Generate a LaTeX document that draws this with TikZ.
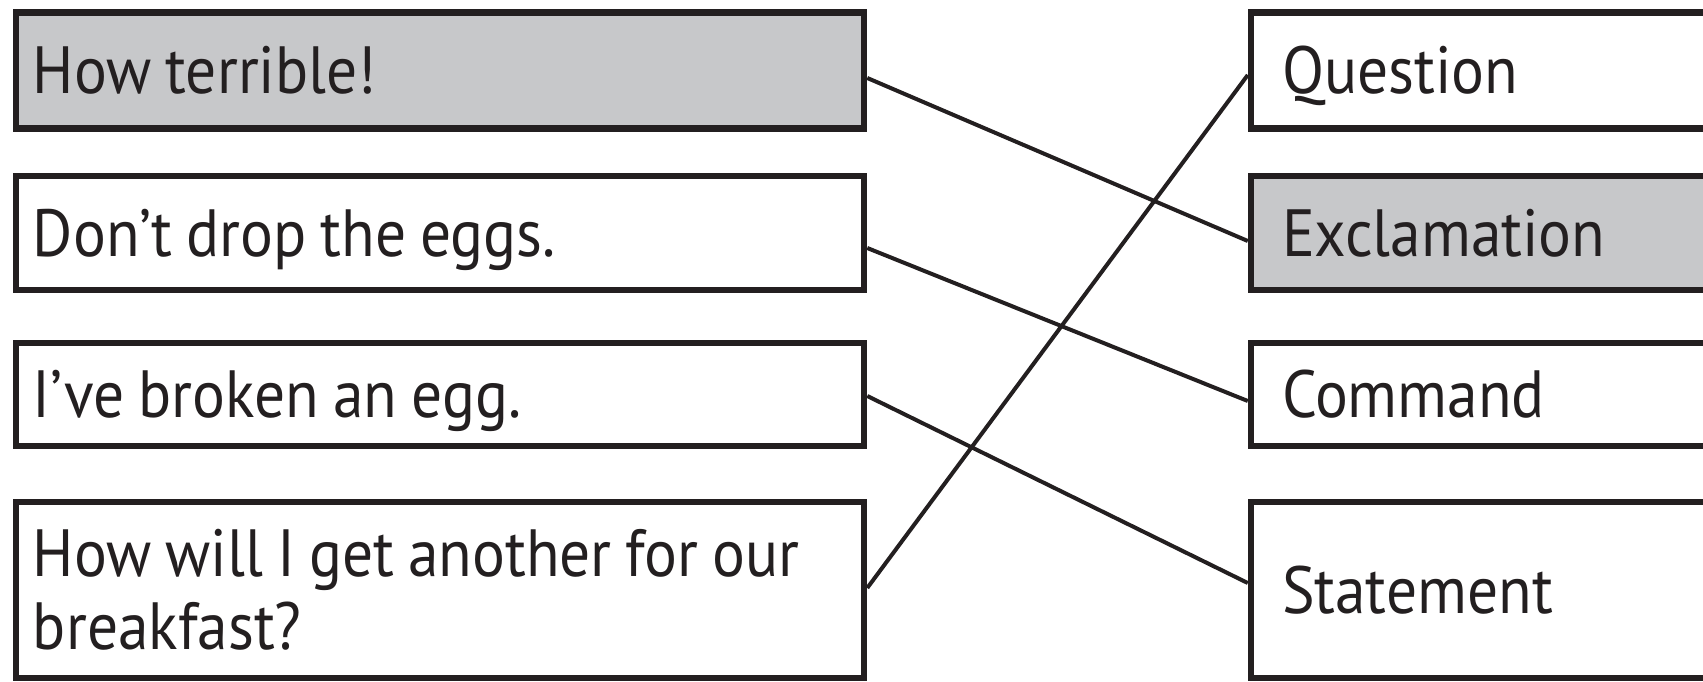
\documentclass[tikz,border=0pt]{standalone}
\usepackage{fontspec}
\setmainfont[FakeStretch=0.92]{PT Sans}
\usepackage{xcolor}
\usetikzlibrary{positioning}
\definecolor{ink}{HTML}{231F20}
\definecolor{shade}{HTML}{C7C8CA}
\newcommand{\boxfont}{\fontsize{19}{20.7}\selectfont\spaceskip 4pt\relax}
\tikzset{
  sentence/.style={draw=ink, line width=0.065cm, text=ink, minimum width=8.48cm,
    text width=8.14cm, inner xsep=0.17cm, inner ysep=0pt, align=flush left,
    text height=0.47cm, text depth=0pt, font=\boxfont},
  kind/.style={sentence, minimum width=5cm, text width=4.38cm, inner xsep=0.31cm},
  link/.style={draw=ink, line width=0.04cm}
}

\begin{document}
\begin{tikzpicture}
    \clip (0,0) rectangle (17.03,6.81);
    % sentences
    \node[sentence, fill=shade, minimum height=1.16cm] (howterrible) at (4.40,6.105) {How terrible!};
    \node[sentence, minimum height=1.14cm] (dontdrop) at (4.40,4.48) {Don’t drop the eggs.};
    \node[sentence, minimum height=1.03cm] (broken) at (4.40,2.865) {I’ve broken an egg.};
    \node[sentence, minimum height=1.76cm, text depth=0.73cm] (breakfast) at (4.40,0.91)
        {How will I get another for our\\breakfast?};

    % sentence kinds
    \node[kind, minimum height=1.16cm] (question) at (15.01,6.105) {Question};
    \node[kind, fill=shade, minimum height=1.14cm] (exclamation) at (15.01,4.48) {Exclamation};
    \node[kind, minimum height=1.03cm] (command) at (15.01,2.865) {Command};
    \node[kind, minimum height=1.76cm] (statement) at (15.01,0.91) {Statement};

    \draw[link] ([yshift=-0.075cm]howterrible.east) -- ([yshift=-0.08cm]exclamation.west);
    \draw[link] ([yshift=-0.15cm]dontdrop.east) -- ([yshift=-0.065cm]command.west);
    \draw[link] ([yshift=-0.015cm]broken.east) -- ([yshift=0.07cm]statement.west);
    \draw[link] ([yshift=0.02cm]breakfast.east) -- ([yshift=-0.045cm]question.west);
\end{tikzpicture}
\end{document}
